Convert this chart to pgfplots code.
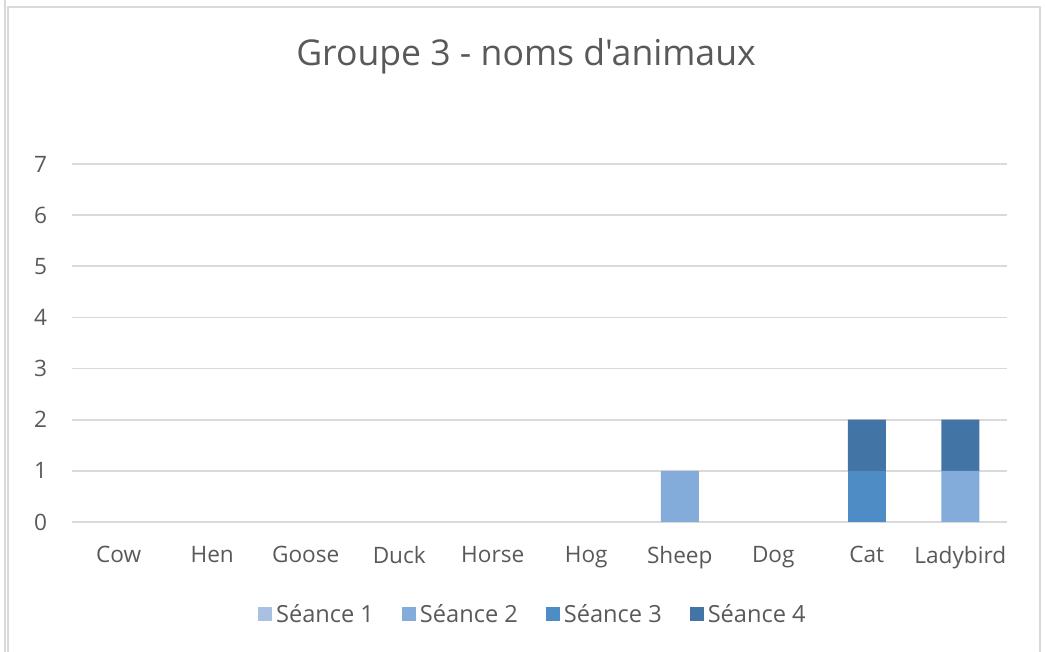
\documentclass[border=0pt]{standalone}
\usepackage{pgfplots}
\pgfplotsset{compat=1.18}
\usepackage{fontspec}
\setmainfont{Open Sans}[Ligatures=TeXOff]
\definecolor{sA}{HTML}{A9C0E2}
\definecolor{sB}{HTML}{84ACDA}
\definecolor{sC}{HTML}{4E8CC5}
\definecolor{sD}{HTML}{4374A6}
\definecolor{txt}{HTML}{595959}
\definecolor{grd}{HTML}{D9D9D9}
\begin{document}
\begin{tikzpicture}[x=1pt,y=1pt]
\useasboundingbox (0,0) rectangle (522.5,326);
\draw[grd,line width=0.6pt] (4,-5) -- (4,322.5) -- (520,322.5) -- (520,-5);
\draw[grd,line width=0.6pt] (2.5,-5) -- (2.5,326);
\node[txt,font=\fontsize{17.8}{21}\selectfont] at (263,298) {Groupe 3 - noms d'animaux};
\begin{axis}[
  at={(36pt,65pt)}, anchor=south west,
  scale only axis, width=467.5pt, height=179pt,
  ybar stacked, bar width=19pt,
  xmin=-0.5, xmax=9.5, ymin=0, ymax=7,
  xtick={0,...,9},
  xticklabels={Cow,Hen,Goose,Duck,Horse,Hog,Sheep,Dog,Cat,Ladybird},
  ytick={0,...,7},
  ymajorgrids, grid style={grd, line width=0.8pt},
  axis line style={draw=none},
  major tick length=0pt,
  tick label style={txt, font=\fontsize{11.3}{13}\selectfont},
  /pgf/number format/assume math mode=true,
  yticklabel style={xshift=-9pt},
  xticklabel style={yshift=-8.5pt},
  legend columns=4,
  legend style={at={(0.494,-0.26)}, anchor=center, draw=none, fill=none,
    font=\fontsize{11.8}{14}\selectfont, text=txt,
    /tikz/every even column/.append style={column sep=12pt}},
  legend image code/.code={\fill[#1] (0pt,-3pt) rectangle (7pt,4pt);},
]
\addplot[fill=sA, draw=none] coordinates {(0,0) (1,0) (2,0) (3,0) (4,0) (5,0) (6,0) (7,0) (8,0) (9,0)};
\addplot[fill=sB, draw=none] coordinates {(0,0) (1,0) (2,0) (3,0) (4,0) (5,0) (6,1) (7,0) (8,0) (9,1)};
\addplot[fill=sC, draw=none] coordinates {(0,0) (1,0) (2,0) (3,0) (4,0) (5,0) (6,0) (7,0) (8,1) (9,0)};
\addplot[fill=sD, draw=none] coordinates {(0,0) (1,0) (2,0) (3,0) (4,0) (5,0) (6,0) (7,0) (8,1) (9,1)};
\legend{Séance 1,Séance 2,Séance 3,Séance 4}
\end{axis}
\end{tikzpicture}
\end{document}
